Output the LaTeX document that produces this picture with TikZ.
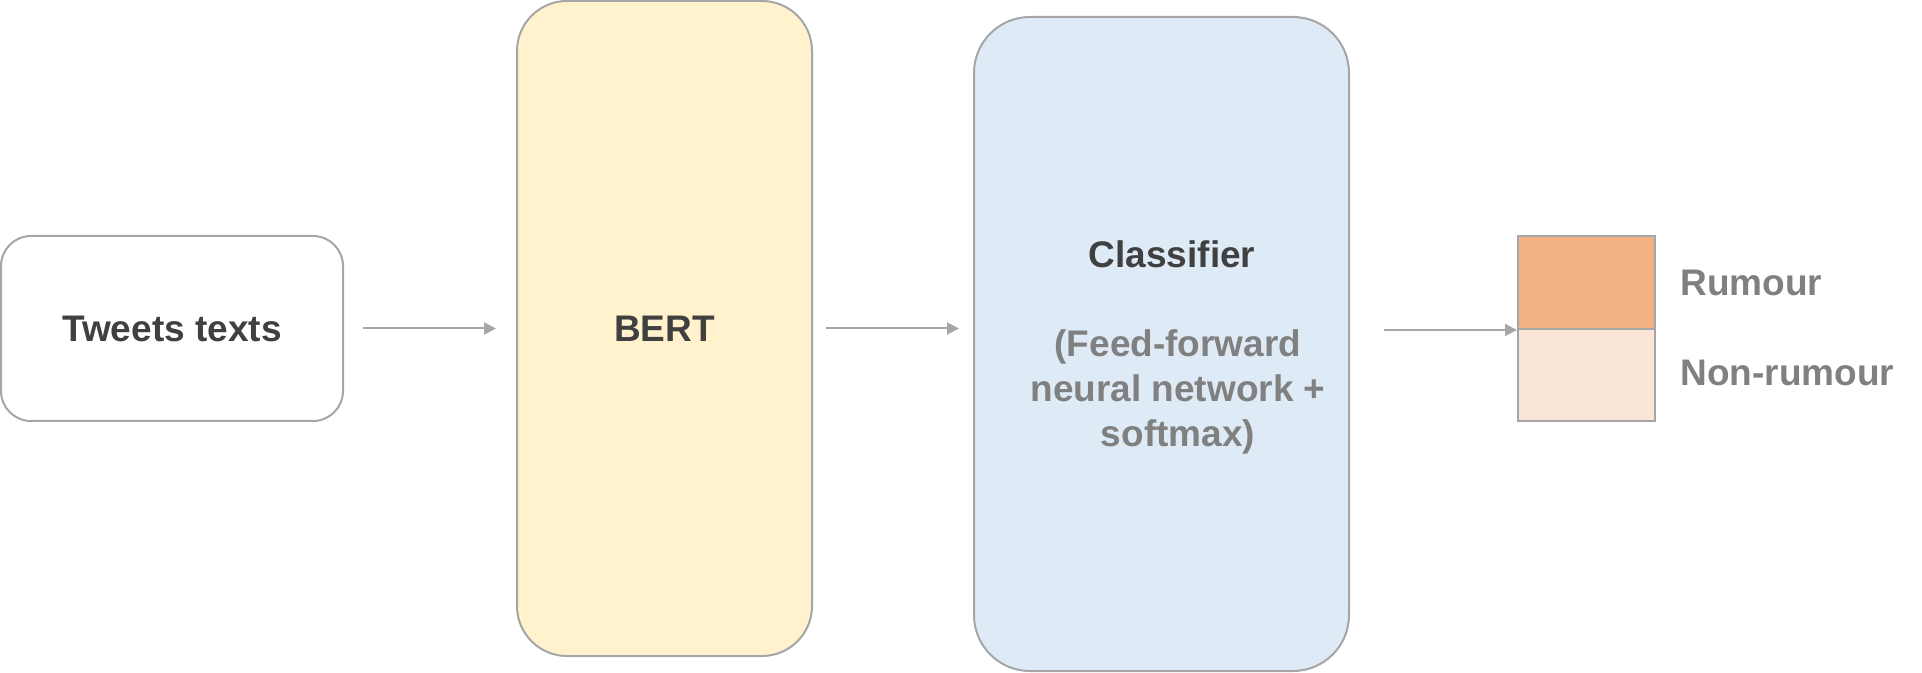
\documentclass[tikz,border=0pt]{standalone}
\usepackage{fontspec}
\setmainfont{Liberation Sans}
\usepackage{tikz}
\usetikzlibrary{arrows.meta}

\definecolor{edgegray}{HTML}{A6A6A6}
\definecolor{darktext}{HTML}{404040}
\definecolor{lighttext}{HTML}{808080}
\definecolor{bertfill}{HTML}{FFF2CC}
\definecolor{clsfill}{HTML}{DEEBF7}
\definecolor{rumfill}{HTML}{F4B183}
\definecolor{nonfill}{HTML}{FBE5D6}

\begin{document}
\begin{tikzpicture}[x=0.5pt,y=-0.5pt,
  box/.style={draw=edgegray, line width=1pt, inner sep=0pt},
  lbl/.style={font=\bfseries\fontsize{18.5}{22.5}\selectfont, inner sep=0pt},
  arr/.style={draw=edgegray, line width=1pt, -{Triangle[length=6pt,width=6pt]}}]

\useasboundingbox (0,0) rectangle (1922,673) ;

\node[box, rounded corners=15pt, fill=white, minimum width=171pt, minimum height=92.5pt] (tweets) at (172,328.5) {} ;
\node[lbl, darktext, anchor=base] (tweetstxt) at (172,342) {Tweets texts} ;

\node[box, rounded corners=25pt, fill=bertfill, minimum width=147.5pt, minimum height=327.5pt] (bert) at (664.5,328.5) {} ;
\node[lbl, darktext, anchor=base] (berttxt) at (664.5,342) {BERT} ;

\node[box, rounded corners=28pt, fill=clsfill, minimum width=187.5pt, minimum height=327pt] (cls) at (1161.5,344) {} ;
\node[lbl, darktext, anchor=base] (clstitle) at (1172,268) {Classifier} ;
\node[lbl, lighttext, anchor=base] (cls1) at (1178,357) {(Feed-forward} ;
\node[lbl, lighttext, anchor=base] (cls2) at (1178,402) {neural network +} ;
\node[lbl, lighttext, anchor=base] (cls3) at (1178,447) {softmax)} ;

\node[box, fill=rumfill, minimum width=68.5pt, minimum height=46.5pt] (rum) at (1586.5,282.5) {} ;
\node[box, fill=nonfill, minimum width=68.5pt, minimum height=46pt] (nonrum) at (1586.5,375) {} ;
\node[lbl, lighttext, anchor=base west] (rumtxt) at (1680,296) {Rumour} ;
\node[lbl, lighttext, anchor=base west] (nonrumtxt) at (1680,386) {Non-rumour} ;

\draw[arr, shorten <=9.5pt, shorten >=10pt] (tweets.east) -- (tweets.east -| bert.west) ;
\draw[arr, shorten <=6.5pt, shorten >=7pt] (bert.east) -- (bert.east -| cls.west) ;
\draw[arr, shorten <=17pt] (rum.south west -| cls.east) -- (rum.south west) ;
\end{tikzpicture}
\end{document}
